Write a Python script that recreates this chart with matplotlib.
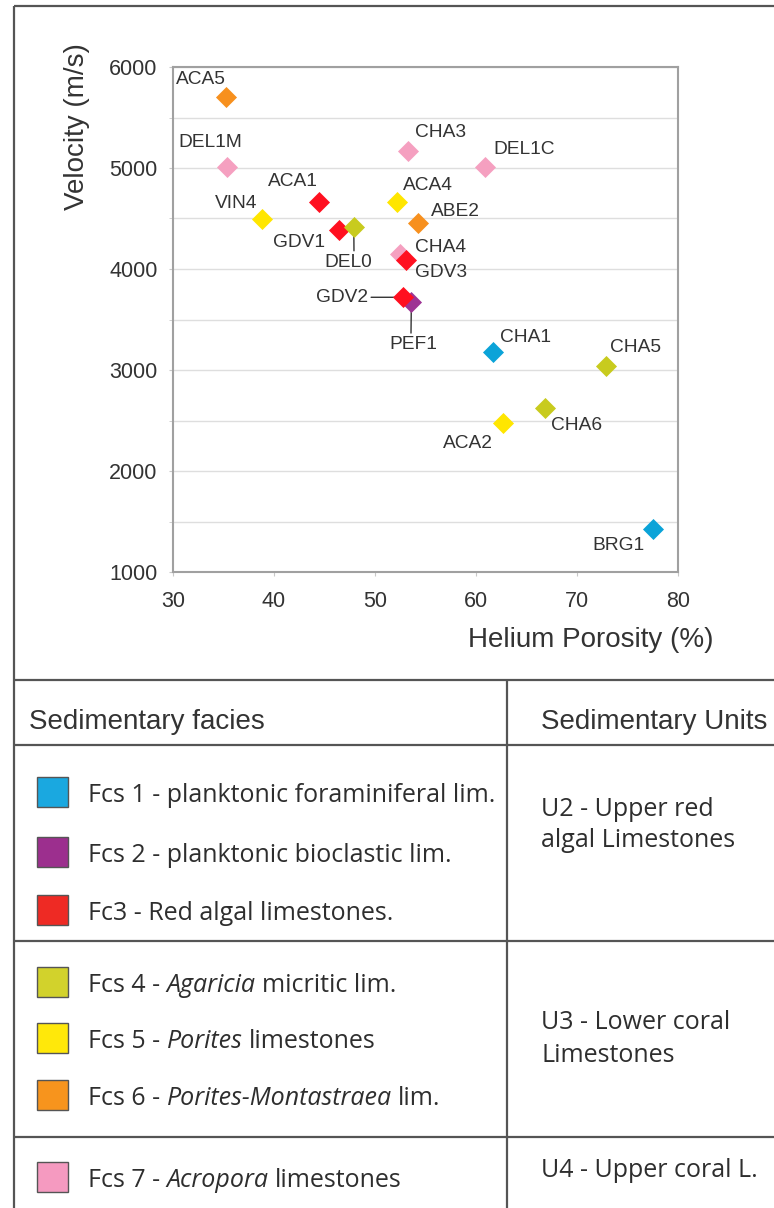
import matplotlib
matplotlib.use('Agg')
import matplotlib.pyplot as plt
from matplotlib import font_manager
from matplotlib.patches import Rectangle

# Datos
samples = ['ACA5', 'DEL1M', 'ACA1', 'VIN4', 'GDV1', 'DEL0', 'CHA3', 'DEL1C', 'ACA4', 'ABE2',
           'CHA4', 'GDV3', 'GDV2', 'PEF1', 'CHA1', 'CHA5', 'CHA6', 'ACA2', 'BRG1']
porosity = [35.2, 35.3, 44.5, 38.8, 46.4, 47.9, 53.3, 60.9, 52.2, 54.3,
            52.5, 53.1, 52.8, 53.6, 61.7, 72.9, 66.8, 62.7, 77.5]
velocity = [5700, 5010, 4665, 4495, 4385, 4415, 5170, 5010, 4665, 4455,
            4150, 4090, 3720, 3670, 3180, 3040, 2625, 2475, 1430]
sample_facies = [6, 7, 3, 5, 3, 4, 7, 7, 5, 6, 7, 3, 3, 2, 1, 4, 4, 5, 1]

facies_codes = [1, 2, 3, 4, 5, 6, 7]
facies_names = [
    [('Fcs 1 - planktonic foraminiferal lim.', False)],
    [('Fcs 2 - planktonic bioclastic lim.', False)],
    [('Fc3 - Red algal limestones.', False)],
    [('Fcs 4 -', False), ('Agaricia', True), ('micritic lim.', False)],
    [('Fcs 5 -', False), ('Porites', True), ('limestones', False)],
    [('Fcs 6 -', False), ('Porites-Montastraea', True), ('lim.', False)],
    [('Fcs 7 -', False), ('Acropora', True), ('limestones', False)],
]
units = [['U2 - Upper red', 'algal Limestones'],
         ['U3 - Lower coral', 'Limestones'],
         ['U4 - Upper coral L.']]

marker_colors = {1: '#0ba3d8', 2: '#9e3494', 3: '#ff1020', 4: '#c8cb1e',
                 5: '#ffe600', 6: '#f7901e', 7: '#f5a0c0'}
box_colors = {1: '#1aa8e0', 2: '#9c2f8e', 3: '#ee2a24', 4: '#d2d22c',
              5: '#ffe80a', 6: '#f7941d', 7: '#f59ac0'}

# posiciones de las etiquetas (desplazamiento en píxeles)
label_offset = {
    'ACA5': (-25, 18), 'DEL1M': (-16, 24), 'ACA1': (-27, 20), 'VIN4': (-26, 16),
    'GDV1': (-40, -12), 'DEL0': (-6, -35), 'CHA3': (32, 18), 'DEL1C': (39, 17),
    'ACA4': (31, 16), 'ABE2': (37, 12), 'CHA4': (40, 6), 'GDV3': (35, -13),
    'GDV2': (-61, 0), 'PEF1': (2, -42), 'CHA1': (32, 14), 'CHA5': (29, 18),
    'CHA6': (32, -18), 'ACA2': (-35, -20), 'BRG1': (-34, -17),
}
leader = {'DEL0': (0.63, 1.0), 'GDV2': (1.0, 0.5), 'PEF1': (0.45, 1.0)}

plt.rcParams['font.family'] = ['Liberation Sans', 'DejaVu Sans']


def has_face(fam, style):
    return any(f.name == fam and f.style == style for f in font_manager.fontManager.ttflist)


row_family = 'Open Sans' if has_face('Open Sans', 'normal') else 'DejaVu Sans'
ital_family = next((f for f in ['Open Sans', 'Noto Sans', 'Lato', 'Liberation Sans']
                    if has_face(f, 'italic')), 'DejaVu Sans')

W, H = 774, 1208
fig = plt.figure(figsize=(W / 100, H / 100), dpi=100)

# capa de fondo en píxeles: marco y tabla
bg = fig.add_axes([0, 0, 1, 1])
bg.set_xlim(0, W)
bg.set_ylim(H, 0)
bg.axis('off')
line_kw = dict(color='#555555', lw=1.6, solid_capstyle='butt', clip_on=False)
bg.plot([14, 14], [6, H], **line_kw)
bg.plot([14, W], [6, 6], **line_kw)
for yy in [680, 745, 941, 1137]:
    bg.plot([14, W], [yy, yy], **line_kw)
bg.plot([507, 507], [680, H], **line_kw)

# gráfico de dispersión
ax = fig.add_axes([173 / W, 1 - 572 / H, 505 / W, 505 / H])
ax.set_xlim(30, 80)
ax.set_ylim(1000, 6000)
ax.set_xticks(range(30, 81, 10))
ax.set_yticks(range(1000, 6001, 1000))
ax.set_yticks(range(1500, 6000, 1000), minor=True)
ax.grid(axis='y', which='both', color='#dedede', lw=1.0)
ax.set_axisbelow(True)
for sp in ax.spines.values():
    sp.set_color('#a0a0a0')
    sp.set_linewidth(1.5)
ax.tick_params(axis='both', which='both', length=3, color='#c8c8c8', labelsize=15.5,
               labelcolor='#333333')
ax.tick_params(axis='x', pad=11)
ax.tick_params(axis='y', pad=8)

for code in [7, 2, 3, 4, 5, 6, 1]:
    xs = [p for p, f in zip(porosity, sample_facies) if f == code]
    ys = [v for v, f in zip(velocity, sample_facies) if f == code]
    ax.scatter(xs, ys, marker='D', s=115, color=marker_colors[code], linewidths=0, zorder=4)

for name, px, vy in zip(samples, porosity, velocity):
    dx, dy = label_offset[name]
    kw = {}
    if name in leader:
        kw['arrowprops'] = dict(arrowstyle='-', color='#333333', lw=1.0, shrinkA=0, shrinkB=0,
                                relpos=leader[name])
    ax.annotate(name, (px, vy), xytext=(dx, dy), textcoords='offset pixels',
                ha='center', va='center', fontsize=13.8, color='#333333', zorder=3, **kw)

fig.text(77 / W, 1 - 127 / H, 'Velocity (m/s)', rotation=90, ha='center', va='center',
         fontsize=20, color='#333333')
fig.text(713 / W, 1 - 640 / H, 'Helium Porosity (%)', ha='right', va='center',
         fontsize=20, color='#333333')

# tabla de facies
bg.text(29, 729, 'Sedimentary facies', fontsize=20, color='#333333', va='baseline')
bg.text(541, 729, 'Sedimentary Units', fontsize=20, color='#333333', va='baseline')

renderer = fig.canvas.get_renderer()


def text_width(s, **kw):
    t = bg.text(0, 0, s, **kw)
    w = t.get_window_extent(renderer=renderer).width
    t.remove()
    return w


row_size = 18
gap = text_width('n n', family=row_family, fontsize=row_size) - text_width('nn', family=row_family, fontsize=row_size)

row_y = [792, 852, 910, 982, 1038, 1095, 1177]
for code, parts, y in zip(facies_codes, facies_names, row_y):
    bg.add_patch(Rectangle((37, y - 15), 31, 30, facecolor=box_colors[code],
                           edgecolor='#555555', lw=1.0))
    x = 88
    for s, italic in parts:
        t = bg.text(x, y + 10, s, fontsize=row_size, color='#2e2e2e', va='baseline',
                    family=ital_family if italic else row_family,
                    style='italic' if italic else 'normal')
        x += t.get_window_extent(renderer=renderer).width + gap

unit_baselines = [[816, 847], [1029, 1062], [1177]]
for lines, ybs in zip(units, unit_baselines):
    for s, yb in zip(lines, ybs):
        bg.text(541, yb, s, fontsize=row_size, color='#2e2e2e', va='baseline', family=row_family)

fig.savefig('out.png', dpi=100)
